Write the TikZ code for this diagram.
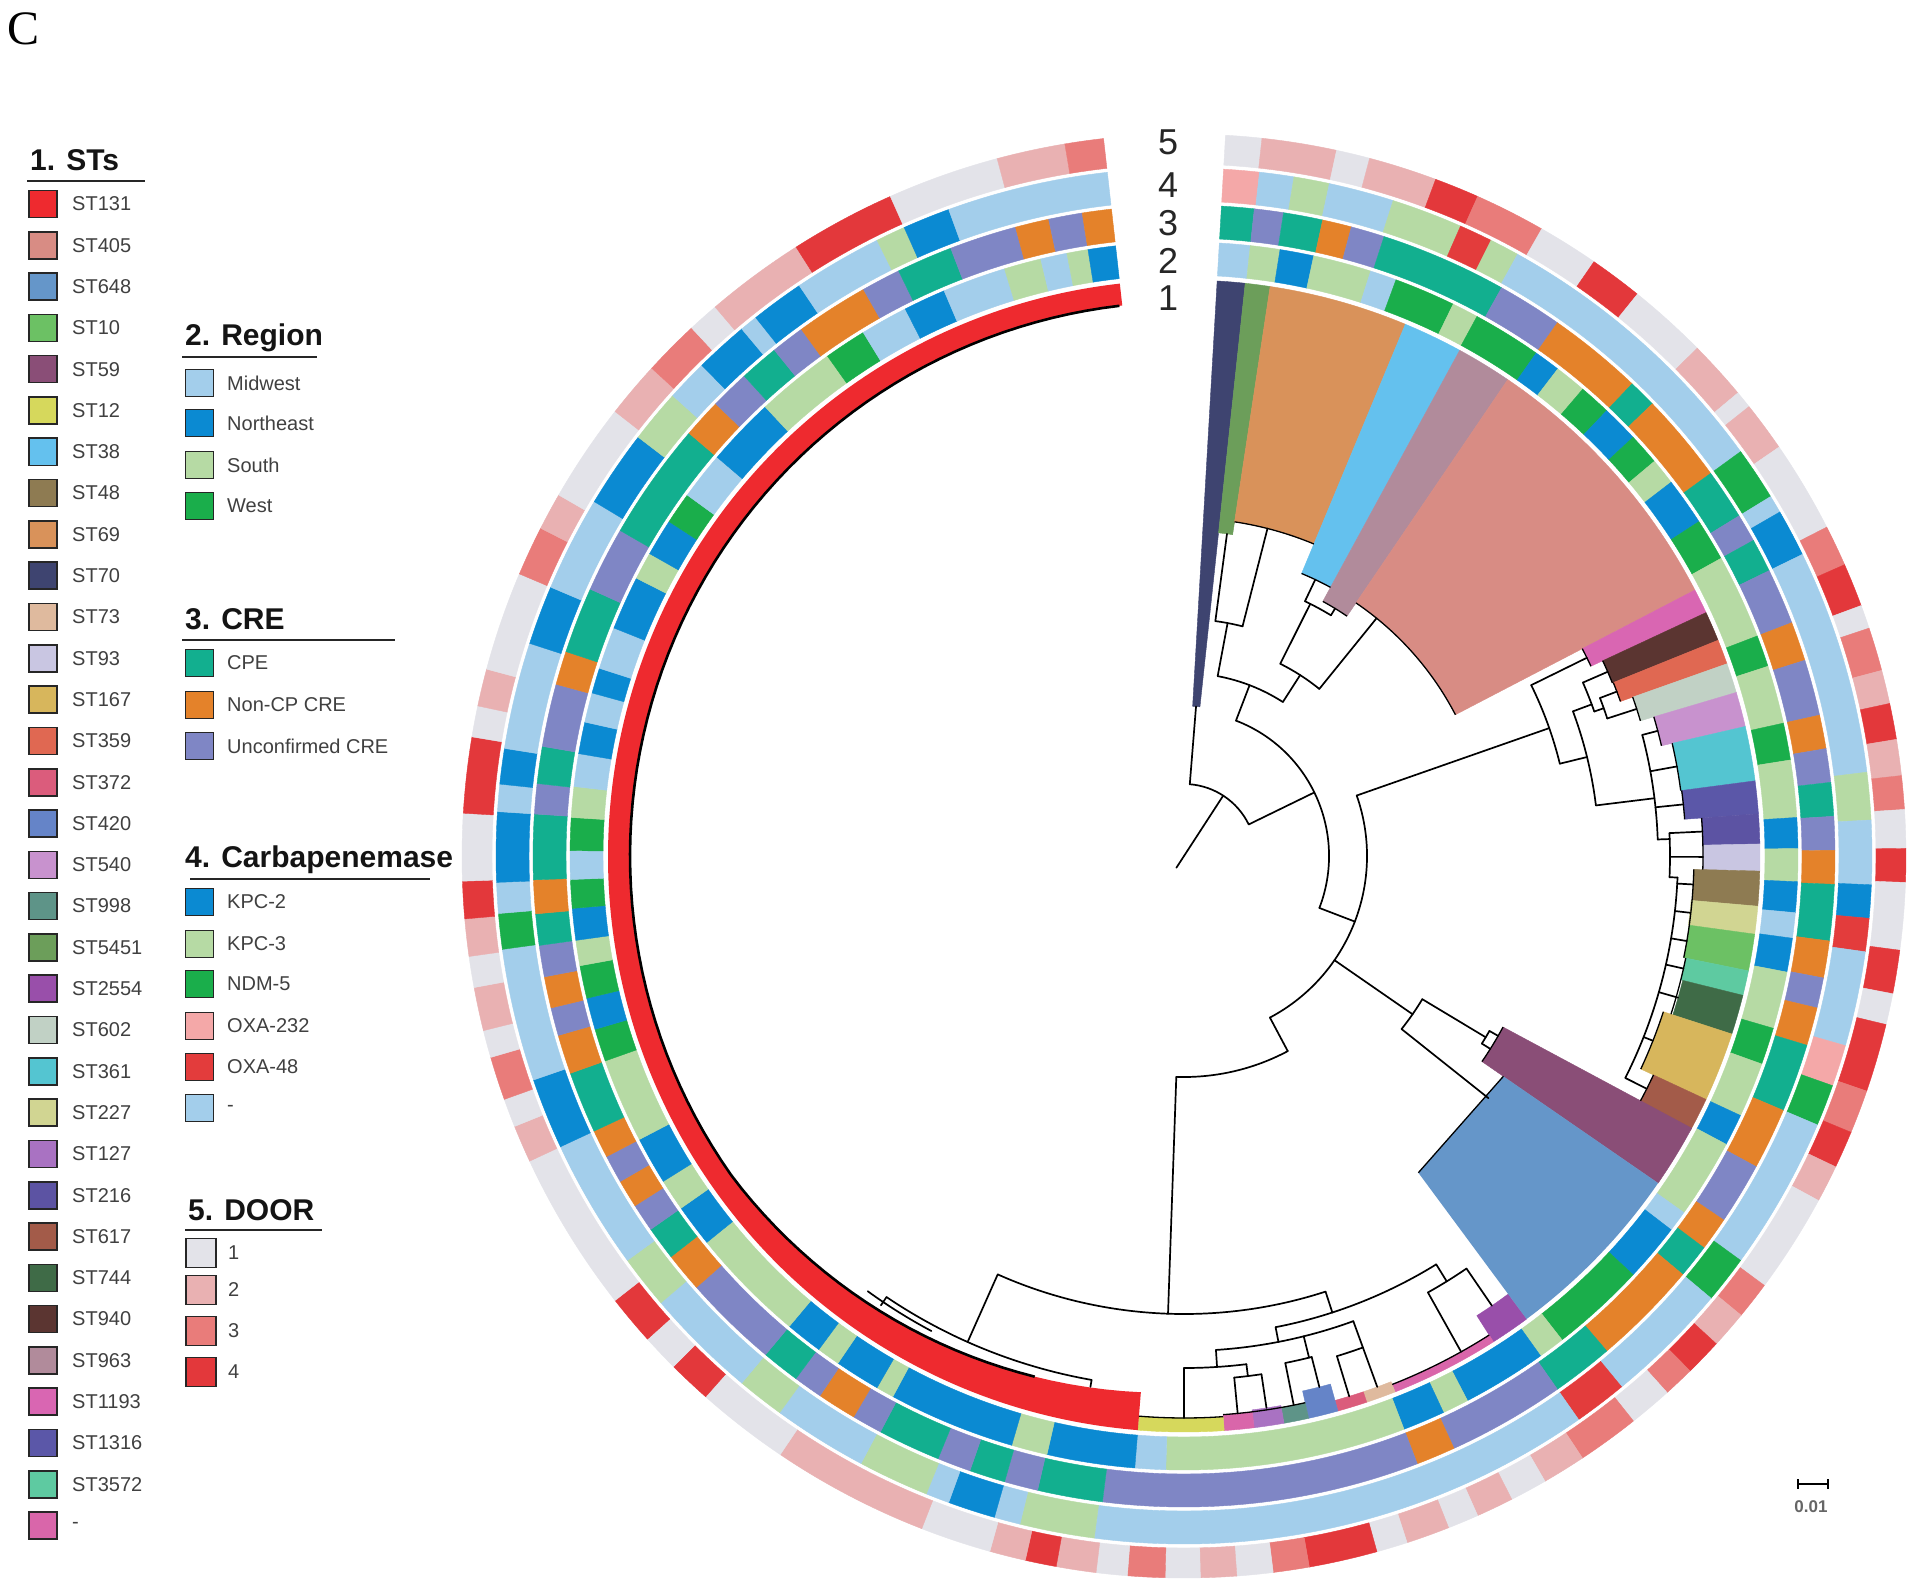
\documentclass[tikz,border=0pt]{standalone}
\usepackage{fontspec}
\setmainfont{Liberation Sans}
\newfontfamily\panelfont{Liberation Serif}
% ring colours
\definecolor{cMW}{HTML}{A3CEEB}\definecolor{cNE}{HTML}{0B8AD2}\definecolor{cSO}{HTML}{B6DAA4}\definecolor{cWE}{HTML}{1AAE4B}
\definecolor{cCPE}{HTML}{12AF8F}\definecolor{cNCP}{HTML}{E4822A}\definecolor{cUNC}{HTML}{7F86C5}
\definecolor{cKPC2}{HTML}{0B8AD2}\definecolor{cKPC3}{HTML}{B6DAA4}\definecolor{cNDM}{HTML}{1AAE4B}
\definecolor{cO232}{HTML}{F4A8A8}\definecolor{cO48}{HTML}{E33C3C}\definecolor{cNONE}{HTML}{A3CEEB}
\definecolor{cD1}{HTML}{E3E3E9}\definecolor{cD2}{HTML}{E9B1B2}\definecolor{cD3}{HTML}{E97C7A}\definecolor{cD4}{HTML}{E3383B}
% ST colours
\definecolor{st131}{HTML}{EE2A2F}\definecolor{st405}{HTML}{D88C84}\definecolor{st648}{HTML}{6596C9}
\definecolor{st10}{HTML}{6CC164}\definecolor{st59}{HTML}{8A4E77}\definecolor{st12}{HTML}{D6D85C}
\definecolor{st38}{HTML}{64C1EE}\definecolor{st48}{HTML}{8E7B52}\definecolor{st69}{HTML}{D9925A}
\definecolor{st70}{HTML}{3E4470}\definecolor{st73}{HTML}{DFBA9E}\definecolor{st93}{HTML}{C9C6E2}
\definecolor{st167}{HTML}{D7B65C}\definecolor{st359}{HTML}{E06852}\definecolor{st372}{HTML}{DB5C7C}
\definecolor{st420}{HTML}{6584C8}\definecolor{st540}{HTML}{C892CE}\definecolor{st998}{HTML}{5E9488}
\definecolor{st5451}{HTML}{6C9E5A}\definecolor{st2554}{HTML}{994FAA}\definecolor{st602}{HTML}{C1D1C5}
\definecolor{st361}{HTML}{54C5D1}\definecolor{st227}{HTML}{D1D592}\definecolor{st127}{HTML}{A972C2}
\definecolor{st216}{HTML}{5C53A3}\definecolor{st617}{HTML}{A35B49}\definecolor{st744}{HTML}{3F6B47}
\definecolor{st940}{HTML}{5B3531}\definecolor{st963}{HTML}{B18B9B}\definecolor{st1193}{HTML}{D966B2}
\definecolor{st1316}{HTML}{5B57A8}\definecolor{st3572}{HTML}{5ECAA1}\definecolor{stdash}{HTML}{D966AA}
% helpers (compass angle, clockwise from top)
\newcommand\seg[5]{\fill[fill=#1,draw=#1,line width=0.4pt] ({90-(#2)}:#4pt) arc[start angle={90-(#2)}, end angle={90-(#3)}, radius=#4pt] -- ({90-(#3)}:#5pt) arc[start angle={90-(#3)}, end angle={90-(#2)}, radius=#5pt] -- cycle;}
\newcommand\ringdata[3]{\gdef\prevang{3.3}\foreach \rcol/\endang in {#3}{\seg{\rcol}{\prevang}{\endang}{#1}{#2}\xdef\prevang{\endang}}}
\newcommand\rl[3]{\draw[tl] ({90-(#1)}:#2pt) -- ({90-(#1)}:#3pt);}
\newcommand\al[3]{\draw[tl] ({90-(#2)}:#1pt) arc[start angle={90-(#2)}, end angle={90-(#3)}, radius=#1pt];}
\newcommand\tipedge[3]{\draw[line width=1.3pt,black] ({90-(#2)}:#1pt) arc[start angle={90-(#2)}, end angle={90-(#3)}, radius=#1pt];}
\begin{document}
\begin{tikzpicture}[x=1pt,y=1pt,
  tl/.style={line width=1.7pt,black,line cap=round,line join=round},
  lbox/.style={draw=black!85,line width=1.6pt,minimum width=28pt,minimum height=27pt,inner sep=0pt},
  dbox/.style={draw=black!85,line width=1.6pt,minimum width=30pt,minimum height=29pt,inner sep=0pt},
  ltxt/.style={anchor=west,font=\fontsize{20}{22}\selectfont,text=black!75,inner sep=0pt},
  lhead/.style={anchor=west,font=\bfseries\fontsize{30}{34}\selectfont,text=black!92,inner sep=0pt}]
\useasboundingbox (0,0) rectangle (1920,-1594);
\fill[white] (0,0) rectangle (1920,-1594);

\node[font=\panelfont\fontsize{48}{50}\selectfont,inner sep=0pt] (panel) at (24,-29) {C};

\begin{scope}[shift={(1184pt,-856pt)}]
% ---- ring 2 : region
\ringdata{581}{614}{cMW/6.2,cSO/9,cNE/12.2,cSO/17.7,cMW/20.2,cWE/26,cSO/28.5,cWE/35,cNE/37.5,cSO/40.5,cWE/43.5,cNE/47,cWE/50,cSO/52.5,cNE/57,cWE/61,cSO/69,cWE/72,cSO/77.5,cWE/81,cSO/86.4,cNE/89.3,cSO/92.4,cNE/95.3,cMW/97.7,cNE/100.9,cSO/106.3,cWE/109.8,cSO/115,cNE/118,cSO/125.5,cMW/127.5,cNE/133,cWE/142,cSO/144.5,cNE/152.5,cSO/155,cNE/159,cSO/181.7,cMW/184.6,cNE/192.9,cSO/196.3,cNE/208.3,cSO/210,cNE/214.3,cSO/216.5,cNE/220,cSO/231,cNE/235,cSO/238,cNE/242.5,cSO/250.5,cWE/253.6,cNE/256.6,cWE/259.7,cSO/262.1,cNE/265.1,cWE/267.8,cMW/270.5,cWE/273.6,cSO/276.5,cMW/279.6,cNE/282.6,cMW/285.4,cNE/287.8,cMW/291.8,cNE/296.9,cSO/299.5,cNE/303,cWE/306,cMW/310.5,cNE/317,cSO/324.5,cWE/328.5,cMW/333,cNE/337,cMW/343,cSO/346.5,cMW/349,cSO/351,cNE/353.6}
% ---- ring 3 : CRE
\ringdata{618}{651}{cCPE/6.2,cUNC/8.8,cCPE/12.3,cNCP/14.9,cUNC/17.9,cCPE/29.2,cUNC/35,cNCP/43.5,cCPE/46,cNCP/54,cCPE/58.5,cUNC/61,cCPE/64,cUNC/69,cNCP/72.5,cUNC/77.5,cNCP/80.5,cUNC/83.5,cCPE/86.5,cUNC/89.5,cNCP/92.5,cCPE/97.5,cNCP/100.8,cUNC/103.5,cNCP/106.9,cCPE/113,cNCP/118.5,cUNC/124,cNCP/127,cCPE/130,cNCP/139.5,cCPE/145,cUNC/155.5,cNCP/159,cUNC/187.2,cCPE/193,cUNC/196,cCPE/199.2,cUNC/202.2,cCPE/207.8,cUNC/210.5,cNCP/214,cUNC/216.6,cCPE/220,cUNC/228.5,cNCP/232,cCPE/235,cUNC/237.5,cNCP/240,cUNC/242.5,cNCP/245,cCPE/250.5,cNCP/254,cUNC/256.5,cNCP/259.3,cUNC/262.1,cCPE/264.9,cNCP/267.9,cCPE/273.7,cUNC/276.4,cCPE/279.7,cUNC/285.3,cNCP/288.3,cCPE/294.2,cUNC/300,cCPE/310.5,cNCP/314,cUNC/317.5,cCPE/321,cUNC/324,cNCP/330.5,cUNC/334,cCPE/339,cUNC/345,cNCP/348,cUNC/351,cNCP/353.6}
% ---- ring 4 : carbapenemase
\ringdata{655}{688}{cO232/6.3,cNONE/9.2,cKPC3/12.2,cNONE/17.7,cKPC3/23.7,cO48/26.5,cKPC3/29,cNONE/54,cNDM/58.5,cNONE/60,cKPC2/64,cNONE/83,cKPC3/87,cNONE/92.4,cKPC2/95.2,cO48/98,cNONE/106,cO232/109.5,cNDM/113,cNONE/126,cNDM/130,cNONE/140.5,cO48/145,cNONE/187.5,cKPC3/193.8,cNONE/196,cKPC2/200,cNONE/202,cKPC3/208,cNONE/216,cKPC3/220,cNONE/229.5,cKPC3/234,cNONE/245,cKPC2/251,cNONE/262.2,cNDM/265.2,cNONE/267.8,cKPC2/273.7,cNONE/276,cKPC2/279,cNONE/288,cKPC2/293,cNONE/301,cKPC2/307.5,cKPC3/312,cNONE/315.5,cKPC2/320,cNONE/321.5,cKPC2/326,cNONE/333.5,cKPC3/336,cKPC2/340,cNONE/353.6}
% ---- ring 5 : DOOR
\ringdata{692}{722}{cD1/6.2,cD2/12.2,cD1/14.9,cD2/20.4,cD4/24,cD3/29.7,cD1/34.6,cD4/38.9,cD1/45.3,cD2/50.1,cD1/51.5,cD2/55.5,cD1/62.9,cD3/66.2,cD4/69.7,cD1/71.6,cD3/75.1,cD2/77.8,cD4/80.7,cD2/83.6,cD3/86.3,cD1/89.4,cD4/92.1,cD1/97.5,cD4/101,cD1/103.5,cD4/109,cD3/112.5,cD4/115.5,cD2/118.5,cD1/126.5,cD3/129.5,cD2/132.5,cD4/135.5,cD3/138,cD1/141.5,cD3/146.5,cD2/150,cD1/153,cD2/156,cD1/158.5,cD2/162,cD1/164.5,cD4/170,cD3/172.9,cD1/175.8,cD2/178.7,cD1/181.5,cD3/184.5,cD1/187,cD2/190.2,cD4/192.7,cD2/195.6,cD1/201.3,cD2/214,cD1/221.5,cD4/225,cD1/228,cD4/232,cD1/245,cD2/248,cD1/250.3,cD3/253.8,cD1/256,cD2/259.5,cD1/262,cD2/265,cD4/268,cD1/273.4,cD4/279.5,cD1/282,cD2/285,cD1/293,cD3/297,cD2/300,cD1/308,cD2/312.5,cD3/317,cD1/319.5,cD2/327.5,cD4/336,cD1/345,cD2/350.5,cD3/353.6}

% ---- ring 1 : ST clades (wedges)
\foreach \sc/\ca/\cb/\ri in {st70/3.3/6.1/150, st5451/6.1/8.6/325, st69/8.6/22.6/338, st38/22.6/28.6/306, st963/28.6/34.2/290, st405/34.2/62.5/306, st1193/62.5/65/449, st940/65/68/462, st359/68/70.5/463, st602/70.5/73.5/476, st540/73.5/77/490, st361/77/82.5/501, st1316/82.5/85.8/502, st216/85.8/88.8/519, st93/88.8/91.5/519, st48/91.5/95/510, st227/95/97.8/509, st10/97.8/101.5/510, st3572/101.5/104/512, st744/104/108/514, st167/108/115/504, st617/115/118.5/518, st59/118.2/124.6/362, st2554/143.5/147.5/545, stdash/147.5/158.5/568, st73/158.5/161.5/565, st372/161.5/164.5/565, st420/164.5/167.5/548, st998/167.5/170/560, st127/170/173/558, stdash/173/176/560, st12/176/184.6/562}
  {\seg{\sc}{\ca}{\cb}{\ri}{576}}
% ST648 (straight inner edge)
\fill[st648] ({90-124.6}:388pt) -- ({90-124.6}:576pt) arc[start angle={90-124.6}, end angle={90-143.5}, radius=576pt] -- ({90-143.5}:394pt) -- cycle;
\draw[line width=1.3pt] ({90-124.6}:388pt) -- ({90-143.5}:394pt);
% ST131 band, inner edge smooth
\fill[st131] ({90-184.6}:576pt) arc[start angle={90-184.6}, end angle={90-353.6}, radius=576pt]
  -- plot[domain=353.6:184.6, samples=90] ({90-\x}:{min(554,538+16*(\x-184.6)/50)}) -- cycle;
\draw[line width=2.6pt,black] plot[domain=196:353.3, samples=90] ({90-\x}:{min(554,538+16*(\x-184.6)/50)});

% tip edges of clades
\tipedge{338}{8.6}{22.6}\tipedge{306}{22.6}{28.6}\tipedge{290}{28.6}{34.2}\tipedge{306}{34.2}{62.5}
\tipedge{449}{62.5}{65}\tipedge{462}{65}{68}\tipedge{463}{68}{70.5}\tipedge{476}{70.5}{73.5}
\tipedge{490}{73.5}{77}\tipedge{501}{77}{82.5}\tipedge{502}{82.5}{85.8}\tipedge{519}{85.8}{91.5}
\tipedge{510}{91.5}{101.5}\tipedge{512}{101.5}{108}\tipedge{504}{108}{115}\tipedge{518}{115}{118.2}
\tipedge{362}{118.2}{124.6}\tipedge{568}{147.5}{158.5}\tipedge{562}{176}{184.6}\tipedge{560}{167.5}{176}

% ---- tree
\rl{213}{0}{14}\rl{33}{0}{72}
\al{72}{4.6}{64}
\rl{4.6}{72}{150}
\rl{64}{72}{145}
\al{145}{21}{111}
\rl{21}{145}{183}
\al{183}{10.6}{32.7}
\rl{10.6}{183}{237}
\al{237}{7.6}{14.3}
\rl{7.6}{237}{325}
\rl{14.3}{237}{338}
\rl{32.7}{183}{215}
\al{215}{26.6}{39}
\rl{26.6}{215}{282}
\al{282}{25.4}{31.4}
\rl{25.4}{282}{306}
\rl{31.4}{282}{290}
\rl{39}{215}{306}
\rl{111}{145}{183}
\al{183}{70.7}{152}
\rl{70.7}{183}{387}
\al{387}{63.8}{76.2}
\rl{63.8}{387}{449}
\rl{76.2}{387}{415}
\al{415}{69.6}{83}
\rl{69.6}{415}{435}
\al{435}{66.5}{70.6}
\rl{66.5}{435}{462}
\rl{70.6}{435}{445}
\al{445}{69.2}{72}
\rl{69.2}{445}{463}
\rl{72}{445}{476}
\rl{83}{415}{474}
\al{474}{75.2}{88}
\rl{75.2}{474}{490}
\rl{79.7}{474}{501}
\rl{84.1}{474}{502}
\rl{88}{474}{486}
\al{486}{87.3}{92.5}
\rl{87.3}{486}{519}
\rl{90.1}{486}{519}
\rl{92.5}{486}{494}
\al{494}{92.5}{116.7}
\rl{93.2}{494}{510}\rl{96.4}{494}{509}\rl{99.6}{494}{510}\rl{102.7}{494}{512}\rl{106}{494}{514}\rl{111.5}{494}{504}\rl{116.7}{494}{518}
\rl{124.7}{183}{278}
\al{278}{121}{128.5}
\rl{121}{278}{352}
\al{352}{119.8}{122.2}
\rl{119.8}{352}{362}\rl{122.2}{352}{362}
\rl{128.5}{278}{389}
\rl{152}{183}{221}
\al{221}{152}{182}
\rl{182}{221}{458}
\al{458}{162}{204}
\rl{204}{458}{532}
\al{532}{190}{214}
\rl{190}{532}{539}\rl{214}{532}{542}
\al{538}{208}{216}
% small clades near the bottom
\rl{162}{458}{480}
\al{480}{148.3}{169}
\rl{148.3}{480}{500}
\al{500}{145.6}{150.8}
\rl{145.6}{500}{545}
\rl{150.8}{500}{568}
\rl{169}{480}{495}
\al{495}{160}{176.3}
\rl{160}{495}{523}
\al{523}{160}{163}
\rl{160}{523}{565}\rl{163}{523}{565}
\rl{166}{495}{517}
\al{517}{165.7}{168.7}
\rl{165.7}{517}{548}\rl{168.7}{517}{560}
\rl{176.3}{495}{512}
\al{512}{173}{180}
\rl{180}{512}{562}
\rl{173}{512}{524}
\al{524}{171.5}{174.5}
\rl{171.5}{524}{558}\rl{174.5}{524}{560}
\end{scope}

% ring numbers
\foreach \k/\yy in {5/142,4/185,3/223,2/261,1/298}
  {\node[font=\fontsize{36}{38}\selectfont,text=black!85,inner sep=0pt] (ringlab\k) at (1168,-\yy) {\k};}

% scale bar
\coordinate (sbl) at (1798,-1484); \coordinate (sbr) at (1828,-1484);
\draw[line width=1.6pt] (sbl) -- (sbr);
\draw[line width=1.6pt] ([yshift=5pt]sbl) -- ([yshift=-5pt]sbl);
\draw[line width=1.6pt] ([yshift=5pt]sbr) -- ([yshift=-5pt]sbr);
\node[font=\bfseries\fontsize{17}{19}\selectfont,text=black!60,inner sep=0pt] (sblab) at (1811,-1507) {0.01};

% ---- legends
\node[lhead] (h1) at (30,-160) {1. STs};
\draw[line width=2.2pt,black!85] (27,-181) -- (145,-181);
\foreach \lab/\clr [count=\i from 0] in {ST131/st131,ST405/st405,ST648/st648,ST10/st10,ST59/st59,ST12/st12,ST38/st38,ST48/st48,ST69/st69,ST70/st70,ST73/st73,ST93/st93,ST167/st167,ST359/st359,ST372/st372,ST420/st420,ST540/st540,ST998/st998,ST5451/st5451,ST2554/st2554,ST602/st602,ST361/st361,ST227/st227,ST127/st127,ST216/st216,ST617/st617,ST744/st744,ST940/st940,ST963/st963,ST1193/st1193,ST1316/st1316,ST3572/st3572,-/stdash}
  {\node[lbox,fill=\clr] (stbox\i) at (43,{-204-41.3*\i}) {};
   \node[ltxt] (stlab\i) at (72,{-204-41.3*\i}) {\lab};}

\node[lhead] (h2) at (185,-338) {2. Region};
\draw[line width=2.2pt,black!85] (182,-357) -- (317,-357);
\foreach \lab/\clr/\yy [count=\i] in {Midwest/cMW/383,Northeast/cNE/423,South/cSO/465,West/cWE/506}
  {\node[lbox,fill=\clr] (rgbox\i) at (199.5,-\yy) {};
   \node[ltxt] (rglab\i) at (227,-\yy) {\lab};}

\node[lhead] (h3) at (185,-619) {3. CRE};
\draw[line width=2.2pt,black!85] (182,-640) -- (395,-640);
\foreach \lab/\clr/\yy [count=\i] in {CPE/cCPE/663,Non-CP CRE/cNCP/705,Unconfirmed CRE/cUNC/746}
  {\node[lbox,fill=\clr] (crbox\i) at (199.5,-\yy) {};
   \node[ltxt] (crlab\i) at (227,-\yy) {\lab};}

\node[lhead] (h4) at (185,-860) {4. Carbapenemase};
\draw[line width=2.2pt,black!85] (190,-879) -- (430,-879);
\foreach \lab/\clr/\yy [count=\i] in {KPC-2/cKPC2/902,KPC-3/cKPC3/944,NDM-5/cNDM/984,OXA-232/cO232/1026,OXA-48/cO48/1067,-/cNONE/1108}
  {\node[lbox,fill=\clr] (cbbox\i) at (199.5,-\yy) {};
   \node[ltxt] (cblab\i) at (227,-\yy) {\lab};}

\node[lhead] (h5) at (188,-1210) {5. DOOR};
\draw[line width=2.2pt,black!85] (185,-1230) -- (322,-1230);
\foreach \lab/\clr/\yy [count=\i] in {1/cD1/1253,2/cD2/1290,3/cD3/1331,4/cD4/1372}
  {\node[dbox,fill=\clr] (drbox\i) at (201,-\yy) {};
   \node[ltxt] (drlab\i) at (228,-\yy) {\lab};}
\end{tikzpicture}
\end{document}
